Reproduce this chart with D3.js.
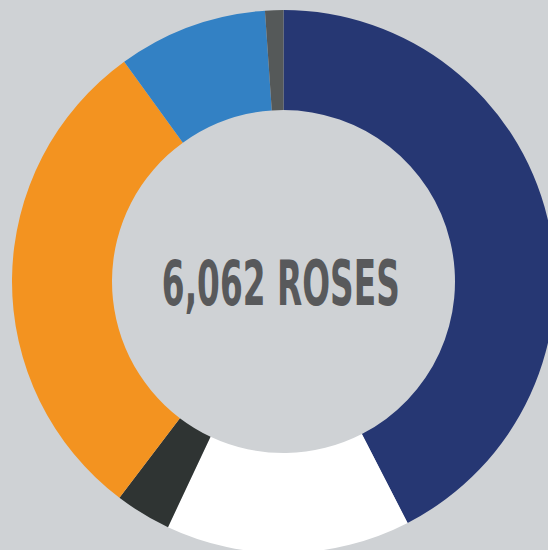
<!DOCTYPE html>
<meta charset="utf-8">
<html>
  <head>
    <style>
      body { margin: 0; background: #cfd2d5; }
      svg { display: block; }
    </style>
  </head>
  <body>
    <div id="chart"></div>
    <script src="https://d3js.org/d3.v7.min.js"></script>
    <script>
// slice data, clockwise from 12 o'clock
var categories = ["navy", "white", "dark", "orange", "blue", "gray"]
var values = [2573, 882, 202, 1800, 539, 66]
var colors = ["#263773", "#ffffff", "#2f3433", "#f39320", "#3381c4", "#555959"]
var totalLabel = "6,062 ROSES"

var width = 548, height = 550
var cx = 283.5, cy = 281.5
var outerR = 271.5, innerR = 171.5

var svg = d3.select("#chart")
  .append("svg")
    .attr("width", width)
    .attr("height", height)

svg.append("rect")
    .attr("width", width)
    .attr("height", height)
    .style("fill", "#cfd2d5")

var g = svg.append("g")
    .attr("transform", "translate(" + cx + "," + cy + ")")

var pie = d3.pie()
    .sort(null)
    .value(function(d) { return d; })

var arc = d3.arc()
    .innerRadius(innerR)
    .outerRadius(outerR)

g.selectAll("path")
  .data(pie(values))
  .enter()
  .append("path")
    .attr("d", arc)
    .style("fill", function(d, i) { return colors[i]; })

// center label, squeezed horizontally to look like a condensed display face
var label = g.append("g")
    .attr("transform", "translate(-2.7,23.5)")

var labelText = label.append("text")
    .attr("text-anchor", "middle")
    .style("font-family", "'DejaVu Sans Condensed', 'Liberation Sans Narrow', sans-serif")
    .style("font-weight", "bold")
    .style("font-size", "63px")
    .style("fill", "#58595b")
    .text(totalLabel)

var natural = labelText.node().getComputedTextLength()
labelText.attr("transform", "scale(" + (238 / natural) + ",1)")
    </script>
  </body>
</html>
